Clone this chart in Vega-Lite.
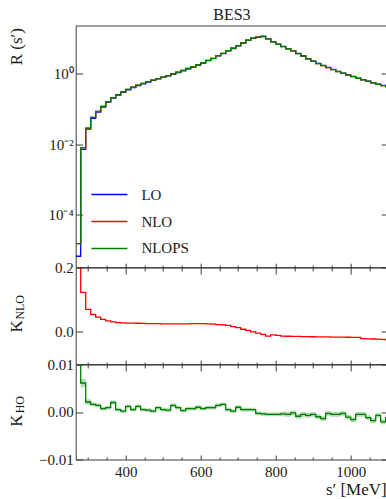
{
  "$schema": "https://vega.github.io/schema/vega-lite/v6.json",
  "autosize": {"type": "pad"},
  "padding": {"left": 6.7, "top": 6.5, "right": 0, "bottom": 0},
  "background": "white",
  "spacing": 0,
  "bounds": "flush",
  "data": {
    "values": [
      {"s": 266.7, "lo": 0.0000066, "nlo": 0.000015, "nlops": 0.000015, "knlo": 1.27, "kho": 0.014, "khoLo": 0.013, "khoHi": 0.015},
      {"s": 280.0, "lo": 0.00712, "nlo": 0.0080, "nlops": 0.0080, "knlo": 0.123, "kho": 0.0061, "khoLo": 0.0052, "khoHi": 0.0070},
      {"s": 293.3, "lo": 0.02664, "nlo": 0.0285, "nlops": 0.0285, "knlo": 0.070, "kho": 0.0021, "khoLo": 0.0015, "khoHi": 0.0027},
      {"s": 306.7, "lo": 0.05417, "nlo": 0.0571, "nlops": 0.0571, "knlo": 0.054, "kho": 0.0016, "khoLo": 0.0012, "khoHi": 0.0020},
      {"s": 320.0, "lo": 0.08088, "nlo": 0.0846, "nlops": 0.0846, "knlo": 0.046, "kho": 0.0014, "khoLo": 0.0010, "khoHi": 0.0018},
      {"s": 333.3, "lo": 0.1130, "nlo": 0.1174, "nlops": 0.1174, "knlo": 0.039, "kho": 0.0007, "khoLo": 0.0003, "khoHi": 0.0011},
      {"s": 346.7, "lo": 0.1547, "nlo": 0.160, "nlops": 0.160, "knlo": 0.034, "kho": 0.0009, "khoLo": 0.0005, "khoHi": 0.0013},
      {"s": 360.0, "lo": 0.2017, "nlo": 0.208, "nlops": 0.208, "knlo": 0.031, "kho": 0.0020, "khoLo": 0.0016, "khoHi": 0.0024},
      {"s": 373.3, "lo": 0.2459, "nlo": 0.253, "nlops": 0.253, "knlo": 0.029, "kho": 0.0005, "khoLo": 0.0001, "khoHi": 0.0009},
      {"s": 386.7, "lo": 0.2938, "nlo": 0.302, "nlops": 0.302, "knlo": 0.028, "kho": 0.0002, "khoLo": -0.0002, "khoHi": 0.0006},
      {"s": 400.0, "lo": 0.3474, "nlo": 0.357, "nlops": 0.357, "knlo": 0.0275, "kho": 0.0012, "khoLo": 0.0008, "khoHi": 0.0016},
      {"s": 413.3, "lo": 0.4021, "nlo": 0.413, "nlops": 0.413, "knlo": 0.027, "kho": 0.0005, "khoLo": 0.0001, "khoHi": 0.0009},
      {"s": 426.7, "lo": 0.4587, "nlo": 0.471, "nlops": 0.471, "knlo": 0.0268, "kho": 0.0012, "khoLo": 0.0008, "khoHi": 0.0016},
      {"s": 440.0, "lo": 0.5163, "nlo": 0.530, "nlops": 0.530, "knlo": 0.0265, "kho": 0.0005, "khoLo": 0.0001, "khoHi": 0.0009},
      {"s": 453.3, "lo": 0.5770, "nlo": 0.592, "nlops": 0.592, "knlo": 0.026, "kho": 0.0004, "khoLo": 0.0000, "khoHi": 0.0008},
      {"s": 466.7, "lo": 0.6415, "nlo": 0.658, "nlops": 0.658, "knlo": 0.0258, "kho": 0.0002, "khoLo": -0.0002, "khoHi": 0.0006},
      {"s": 480.0, "lo": 0.7074, "nlo": 0.7254, "nlops": 0.7254, "knlo": 0.0255, "kho": 0.0009, "khoLo": 0.0005, "khoHi": 0.0013},
      {"s": 493.3, "lo": 0.7806, "nlo": 0.8003, "nlops": 0.8003, "knlo": 0.0252, "kho": 0.0005, "khoLo": 0.0001, "khoHi": 0.0009},
      {"s": 506.7, "lo": 0.8615, "nlo": 0.883, "nlops": 0.883, "knlo": 0.025, "kho": 0.0004, "khoLo": 0.0000, "khoHi": 0.0008},
      {"s": 520.0, "lo": 0.9569, "nlo": 0.9806, "nlops": 0.9806, "knlo": 0.0248, "kho": 0.0014, "khoLo": 0.0010, "khoHi": 0.0018},
      {"s": 533.3, "lo": 1.0695, "nlo": 1.096, "nlops": 1.096, "knlo": 0.0248, "kho": 0.0009, "khoLo": 0.0005, "khoHi": 0.0013},
      {"s": 546.7, "lo": 1.2029, "nlo": 1.233, "nlops": 1.233, "knlo": 0.025, "kho": 0.0003, "khoLo": -0.0001, "khoHi": 0.0007},
      {"s": 560.0, "lo": 1.3627, "nlo": 1.397, "nlops": 1.397, "knlo": 0.0252, "kho": 0.0007, "khoLo": 0.0003, "khoHi": 0.0011},
      {"s": 573.3, "lo": 1.5427, "nlo": 1.582, "nlops": 1.582, "knlo": 0.0255, "kho": 0.0007, "khoLo": 0.0003, "khoHi": 0.0011},
      {"s": 586.7, "lo": 1.7578, "nlo": 1.803, "nlops": 1.803, "knlo": 0.0257, "kho": 0.0010, "khoLo": 0.0006, "khoHi": 0.0014},
      {"s": 600.0, "lo": 2.0039, "nlo": 2.055, "nlops": 2.055, "knlo": 0.0255, "kho": 0.0007, "khoLo": 0.0003, "khoHi": 0.0011},
      {"s": 613.3, "lo": 2.3317, "nlo": 2.390, "nlops": 2.390, "knlo": 0.025, "kho": 0.0009, "khoLo": 0.0005, "khoHi": 0.0013},
      {"s": 626.7, "lo": 2.6602, "nlo": 2.724, "nlops": 2.724, "knlo": 0.024, "kho": 0.0009, "khoLo": 0.0005, "khoHi": 0.0013},
      {"s": 640.0, "lo": 3.1795, "nlo": 3.251, "nlops": 3.251, "knlo": 0.0225, "kho": 0.0014, "khoLo": 0.0010, "khoHi": 0.0018},
      {"s": 653.3, "lo": 3.7014, "nlo": 3.781, "nlops": 3.781, "knlo": 0.0215, "kho": 0.0016, "khoLo": 0.0012, "khoHi": 0.0020},
      {"s": 666.7, "lo": 4.4216, "nlo": 4.51, "nlops": 4.51, "knlo": 0.020, "kho": 0.0005, "khoLo": 0.0001, "khoHi": 0.0009},
      {"s": 680.0, "lo": 5.1653, "nlo": 5.25, "nlops": 5.25, "knlo": 0.0164, "kho": 0.0002, "khoLo": -0.0002, "khoHi": 0.0006},
      {"s": 693.3, "lo": 6.1778, "nlo": 6.26, "nlops": 6.26, "knlo": 0.0133, "kho": 0.0010, "khoLo": 0.0006, "khoHi": 0.0014},
      {"s": 706.7, "lo": 7.4092, "nlo": 7.47, "nlops": 7.47, "knlo": 0.0082, "kho": 0.0005, "khoLo": 0.0001, "khoHi": 0.0009},
      {"s": 720.0, "lo": 8.806, "nlo": 8.85, "nlops": 8.85, "knlo": 0.005, "kho": 0.0005, "khoLo": 0.0001, "khoHi": 0.0009},
      {"s": 733.3, "lo": 10.1, "nlo": 10.1, "nlops": 10.1, "knlo": 0.0, "kho": 0.0005, "khoLo": 0.0001, "khoHi": 0.0009},
      {"s": 746.7, "lo": 10.843, "nlo": 10.8, "nlops": 10.8, "knlo": -0.004, "kho": -0.0003, "khoLo": -0.0007, "khoHi": 0.0001},
      {"s": 760.0, "lo": 11.391, "nlo": 11.3, "nlops": 11.3, "knlo": -0.008, "kho": -0.0004, "khoLo": -0.0008, "khoHi": 0.0000},
      {"s": 773.3, "lo": 9.838, "nlo": 9.71, "nlops": 9.71, "knlo": -0.013, "kho": -0.0005, "khoLo": -0.0009, "khoHi": -0.0001},
      {"s": 786.7, "lo": 8.052, "nlo": 7.98, "nlops": 7.98, "knlo": -0.009, "kho": -0.0005, "khoLo": -0.0009, "khoHi": -0.0001},
      {"s": 800.0, "lo": 6.855, "nlo": 6.78, "nlops": 6.78, "knlo": -0.011, "kho": -0.0005, "khoLo": -0.0009, "khoHi": -0.0001},
      {"s": 813.3, "lo": 5.947, "nlo": 5.87, "nlops": 5.87, "knlo": -0.013, "kho": -0.0004, "khoLo": -0.0009, "khoHi": 0.0001},
      {"s": 826.7, "lo": 5.150, "nlo": 5.08, "nlops": 5.08, "knlo": -0.0135, "kho": -0.0005, "khoLo": -0.0010, "khoHi": 0.0000},
      {"s": 840.0, "lo": 4.493, "nlo": 4.43, "nlops": 4.43, "knlo": -0.014, "kho": -0.0002, "khoLo": -0.0007, "khoHi": 0.0003},
      {"s": 853.3, "lo": 3.763, "nlo": 3.71, "nlops": 3.71, "knlo": -0.0142, "kho": -0.0009, "khoLo": -0.0014, "khoHi": -0.0004},
      {"s": 866.7, "lo": 3.196, "nlo": 3.15, "nlops": 3.15, "knlo": -0.0145, "kho": -0.0005, "khoLo": -0.0010, "khoHi": 0.0000},
      {"s": 880.0, "lo": 2.659, "nlo": 2.62, "nlops": 2.62, "knlo": -0.0147, "kho": -0.0007, "khoLo": -0.0012, "khoHi": -0.0002},
      {"s": 893.3, "lo": 2.254, "nlo": 2.22, "nlops": 2.22, "knlo": -0.015, "kho": -0.0005, "khoLo": -0.0010, "khoHi": 0.0000},
      {"s": 906.7, "lo": 1.950, "nlo": 1.92, "nlops": 1.92, "knlo": -0.0152, "kho": -0.0010, "khoLo": -0.0015, "khoHi": -0.0005},
      {"s": 920.0, "lo": 1.717, "nlo": 1.69, "nlops": 1.69, "knlo": -0.0155, "kho": -0.0014, "khoLo": -0.0019, "khoHi": -0.0009},
      {"s": 933.3, "lo": 1.504, "nlo": 1.48, "nlops": 1.48, "knlo": -0.0157, "kho": -0.0003, "khoLo": -0.0008, "khoHi": 0.0002},
      {"s": 946.7, "lo": 1.321, "nlo": 1.30, "nlops": 1.30, "knlo": -0.016, "kho": -0.0005, "khoLo": -0.0010, "khoHi": 0.0000},
      {"s": 960.0, "lo": 1.159, "nlo": 1.14, "nlops": 1.14, "knlo": -0.0162, "kho": -0.0005, "khoLo": -0.0010, "khoHi": 0.0000},
      {"s": 973.3, "lo": 1.037, "nlo": 1.02, "nlops": 1.02, "knlo": -0.0165, "kho": -0.0003, "khoLo": -0.0008, "khoHi": 0.0002},
      {"s": 986.7, "lo": 0.9275, "nlo": 0.912, "nlops": 0.912, "knlo": -0.0167, "kho": -0.0011, "khoLo": -0.0016, "khoHi": -0.0006},
      {"s": 1000.0, "lo": 0.8362, "nlo": 0.822, "nlops": 0.822, "knlo": -0.017, "kho": -0.0016, "khoLo": -0.0021, "khoHi": -0.0011},
      {"s": 1013.3, "lo": 0.7479, "nlo": 0.735, "nlops": 0.735, "knlo": -0.0172, "kho": -0.0005, "khoLo": -0.0010, "khoHi": 0.0000},
      {"s": 1026.7, "lo": 0.6762, "nlo": 0.662, "nlops": 0.662, "knlo": -0.021, "kho": -0.0005, "khoLo": -0.0010, "khoHi": 0.0000},
      {"s": 1040.0, "lo": 0.6132, "nlo": 0.600, "nlops": 0.600, "knlo": -0.0215, "kho": -0.0012, "khoLo": -0.0017, "khoHi": -0.0007},
      {"s": 1053.3, "lo": 0.5562, "nlo": 0.544, "nlops": 0.544, "knlo": -0.022, "kho": -0.0018, "khoLo": -0.0023, "khoHi": -0.0013},
      {"s": 1066.7, "lo": 0.5074, "nlo": 0.496, "nlops": 0.496, "knlo": -0.0225, "kho": -0.0007, "khoLo": -0.0012, "khoHi": -0.0002},
      {"s": 1080.0, "lo": 0.4667, "nlo": 0.456, "nlops": 0.456, "knlo": -0.023, "kho": -0.0021, "khoLo": -0.0026, "khoHi": -0.0016},
      {"s": 1093.3, "lo": 0.4318, "nlo": 0.421, "nlops": 0.421, "knlo": -0.025, "kho": -0.0012, "khoLo": -0.0017, "khoHi": -0.0007},
      {"s": 1106.7, "lo": 0.4318, "nlo": 0.421, "nlops": 0.421, "knlo": -0.025, "kho": -0.0012, "khoLo": -0.0017, "khoHi": -0.0007}
    ]
  },
  "config": {
    "font": "Liberation Serif",
    "view": {"stroke": "#3a3a3a", "strokeWidth": 1},
    "axis": {
      "domain": false,
      "grid": false,
      "labelFont": "Liberation Serif",
      "labelFontSize": 15,
      "labelColor": "#1a1a1a",
      "tickColor": "#3a3a3a",
      "tickWidth": 1,
      "titleFont": "Liberation Serif",
      "titleFontSize": 17,
      "titleFontWeight": "normal",
      "titleColor": "#1a1a1a"
    },
    "legend": {"labelFont": "Liberation Serif"},
    "title": {"font": "Liberation Serif", "fontSize": 16, "fontWeight": "normal", "color": "#1a1a1a"}
  },
  "vconcat": [
    {
      "width": 312.5,
      "height": 241.7,
      "title": {"text": "BES3", "anchor": "middle", "offset": 2.5},
      "layer": [
        {
          "mark": {"type": "line", "interpolate": "step-after", "clip": true, "strokeWidth": 1.3},
          "encoding": {
            "x": {
              "field": "s", "type": "quantitative",
              "scale": {"domain": [266.7, 1100], "nice": false, "zero": false},
              "axis": {
                "orient": "bottom", "labels": false, "title": null,
                "values": [300, 350, 400, 450, 500, 550, 600, 650, 700, 750, 800, 850, 900, 950, 1000, 1050],
                "tickSize": {"condition": {"test": "datum.value % 200 == 0", "value": -4}, "value": -2}
              }
            },
            "y": {
              "field": "lo", "type": "quantitative",
              "scale": {"type": "log", "domain": [0.00000323, 23.2], "nice": false},
              "axis": {
                "orient": "left",
                "values": [0.0001, 0.01, 1],
                "labelExpr": "datum.value >= 0.5 ? '10⁰' : datum.value >= 0.005 ? '10⁻²' : '10⁻⁴'",
                "tickSize": -7,
                "labelPadding": 9.5,
                "title": "R (s′)",
                "titleX": -54,
                "titleY": 2,
                "titleAngle": -90,
                "titleAlign": "right",
                "titleBaseline": "alphabetic"
              }
            },
            "color": {
              "datum": "LO", "type": "nominal",
              "scale": {"domain": ["LO", "NLO", "NLOPS"], "range": ["#0000ff", "#ff0000", "#008000"]},
              "legend": {
                "orient": "none", "legendX": 14.7, "legendY": 150,
                "title": null, "padding": 0,
                "symbolType": "stroke", "symbolSize": 1296, "symbolStrokeWidth": 1.5,
                "labelFont": "Liberation Serif", "labelFontSize": 15, "labelColor": "#1a1a1a",
                "labelOffset": 13, "rowPadding": -11.5
              }
            }
          }
        },
        {
          "mark": {"type": "line", "interpolate": "step-after", "clip": true, "strokeWidth": 1.3},
          "encoding": {
            "x": {"field": "s", "type": "quantitative", "axis": null},
            "y": {"field": "nlo", "type": "quantitative", "axis": null},
            "color": {"datum": "NLO", "type": "nominal"}
          }
        },
        {
          "mark": {"type": "line", "interpolate": "step-after", "clip": true, "strokeWidth": 1.3},
          "encoding": {
            "x": {"field": "s", "type": "quantitative", "axis": null},
            "y": {"field": "nlops", "type": "quantitative", "axis": null},
            "color": {"datum": "NLOPS", "type": "nominal"}
          }
        },
        {
          "mark": {"type": "line", "opacity": 0, "clip": true},
          "encoding": {
            "x": {"field": "s", "type": "quantitative", "axis": null},
            "y": {
              "field": "nlops", "type": "quantitative",
              "axis": {"orient": "right", "labels": false, "title": null, "values": [0.0001, 0.01, 1], "tickSize": -7}
            }
          }
        }
      ],
      "resolve": {"axis": {"x": "independent", "y": "independent"}}
    },
    {
      "width": 312.5,
      "height": 96.6,
      "layer": [
        {
          "mark": {"type": "line", "interpolate": "step-after", "clip": true, "color": "#ff0000", "strokeWidth": 1.3},
          "encoding": {
            "x": {
              "field": "s", "type": "quantitative",
              "scale": {"domain": [266.7, 1100], "nice": false, "zero": false},
              "axis": {
                "orient": "bottom", "labels": false, "title": null,
                "values": [300, 350, 400, 450, 500, 550, 600, 650, 700, 750, 800, 850, 900, 950, 1000, 1050],
                "tickSize": {"condition": {"test": "datum.value % 200 == 0", "value": -4}, "value": -2}
              }
            },
            "y": {
              "field": "knlo", "type": "quantitative",
              "scale": {"domain": [-0.1, 0.2], "nice": false, "zero": false},
              "axis": {
                "orient": "left", "values": [0, 0.2], "format": ".1f",
                "tickSize": -7, "labelPadding": 9.5,
                "title": "K", "titleX": -54, "titleY": 58.3, "titleAngle": -90,
                "titleAlign": "center", "titleBaseline": "alphabetic"
              }
            }
          }
        },
        {
          "mark": {"type": "line", "opacity": 0, "clip": true},
          "encoding": {
            "x": {
              "field": "s", "type": "quantitative",
              "axis": {
                "orient": "top", "labels": false, "title": null,
                "values": [300, 350, 400, 450, 500, 550, 600, 650, 700, 750, 800, 850, 900, 950, 1000, 1050],
                "tickSize": {"condition": {"test": "datum.value % 200 == 0", "value": -6.5}, "value": -3.5}
              }
            },
            "y": {
              "field": "knlo", "type": "quantitative",
              "axis": {
                "orient": "right", "labels": false, "values": [0, 0.2], "tickSize": -7,
                "title": "NLO", "titleFontSize": 12, "titleX": -364.8, "titleY": 39.3, "titleAngle": -90,
                "titleAlign": "center", "titleBaseline": "alphabetic"
              }
            }
          }
        }
      ],
      "resolve": {"axis": {"x": "independent", "y": "independent"}}
    },
    {
      "width": 312.5,
      "height": 95,
      "layer": [
        {
          "mark": {"type": "area", "interpolate": "step-after", "clip": true, "color": "#008000", "opacity": 0.3},
          "encoding": {
            "x": {
              "field": "s", "type": "quantitative",
              "scale": {"domain": [266.7, 1100], "nice": false, "zero": false},
              "axis": {
                "orient": "bottom", "format": "d",
                "values": [300, 350, 400, 450, 500, 550, 600, 650, 700, 750, 800, 850, 900, 950, 1000, 1050],
                "labelExpr": "datum.value % 200 == 0 ? datum.label : ''",
                "tickSize": {"condition": {"test": "datum.value % 200 == 0", "value": -4.5}, "value": -2.5},
                "labelPadding": 10,
                "title": "s′ [MeV]", "titleX": 310.5, "titleY": 35, "titleAlign": "right",
                "titleBaseline": "alphabetic"
              }
            },
            "y": {
              "field": "khoLo", "type": "quantitative",
              "scale": {"domain": [-0.01, 0.01], "nice": false, "zero": false},
              "axis": {
                "orient": "left", "values": [-0.01, 0, 0.01], "format": ".2f",
                "tickSize": -7, "labelPadding": 9.5,
                "title": "K", "titleX": -54, "titleY": 55.7, "titleAngle": -90,
                "titleAlign": "center", "titleBaseline": "alphabetic"
              }
            },
            "y2": {"field": "khoHi"}
          }
        },
        {
          "mark": {"type": "line", "interpolate": "step-after", "clip": true, "color": "#008000", "strokeWidth": 1.3},
          "encoding": {
            "x": {"field": "s", "type": "quantitative", "axis": null},
            "y": {"field": "kho", "type": "quantitative", "axis": null}
          }
        },
        {
          "mark": {"type": "line", "opacity": 0, "clip": true},
          "encoding": {
            "x": {
              "field": "s", "type": "quantitative",
              "axis": {
                "orient": "top", "labels": false, "title": null,
                "values": [300, 350, 400, 450, 500, 550, 600, 650, 700, 750, 800, 850, 900, 950, 1000, 1050],
                "tickSize": {"condition": {"test": "datum.value % 200 == 0", "value": -6.5}, "value": -3.5}
              }
            },
            "y": {
              "field": "kho", "type": "quantitative",
              "axis": {
                "orient": "right", "labels": false, "values": [-0.01, 0, 0.01], "tickSize": -7,
                "title": "HO", "titleFontSize": 12, "titleX": -364.8, "titleY": 39.7, "titleAngle": -90,
                "titleAlign": "center", "titleBaseline": "alphabetic"
              }
            }
          }
        }
      ],
      "resolve": {"axis": {"x": "independent", "y": "independent"}}
    }
  ]
}
